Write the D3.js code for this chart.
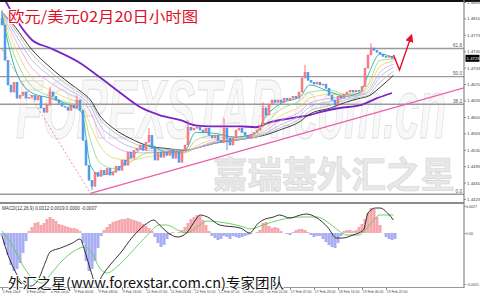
<!DOCTYPE html>
<html>
<head>
<meta charset="utf-8">
<script src="https://cdn.jsdelivr.net/npm/d3@7"></script>
<style>
  body { margin: 0; background: #fff; }
  svg { display: block; font-family: "Liberation Sans", Arial, sans-serif; }
</style>
</head>
<body>
<div id="chart"></div>
<script>
// EUR/USD hourly, 5 Feb - 20 Feb 2009. one candle = 2 hours, x in hours from start
var firstOpen = 1.4810;
var closes = [
  1.4796,1.4721,1.4668,1.4653,1.4674,1.4640,1.4646,1.4653,1.4640,1.4642,
  1.4646,1.4636,1.4644,1.4619,1.4610,1.4625,1.4653,1.4644,1.4636,1.4629,
  1.4623,1.4621,1.4614,1.4625,1.4619,1.4636,1.4614,1.4550,1.4497,1.4465,
  1.4452,1.4482,1.4473,1.4486,1.4478,1.4490,1.4476,1.4482,1.4495,1.4486,
  1.4508,1.4497,1.4525,1.4512,1.4529,1.4533,1.4540,1.4529,1.4546,1.4561,
  1.4533,1.4508,1.4525,1.4514,1.4525,1.4518,1.4529,1.4512,1.4525,1.4503,
  1.4529,1.4540,1.4578,1.4572,1.4576,1.4580,1.4572,1.4567,1.4576,1.4561,
  1.4555,1.4561,1.4550,1.4546,1.4576,1.4555,1.4540,1.4555,1.4572,1.4576,
  1.4567,1.4561,1.4555,1.4563,1.4567,1.4572,1.4582,1.4619,1.4604,1.4627,
  1.4636,1.4631,1.4636,1.4631,1.4640,1.4636,1.4640,1.4644,1.4640,1.4653,
  1.4683,1.4695,1.4678,1.4674,1.4670,1.4674,1.4668,1.4670,1.4661,1.4646,
  1.4636,1.4627,1.4644,1.4640,1.4648,1.4653,1.4657,1.4653,1.4657,1.4655,
  1.4665,1.4704,1.4732,1.4747,1.4742,1.4738,1.4734,1.4729,1.4727,1.4729,
  1.4725,1.4725
];
// [hour, wick extreme]
var wicks = [[0,1.4828],[32,1.4663],[50,1.4646],[60,1.4444],[98,1.4576],[124,1.4593],
  [148,1.4597],[150,1.4529],[174,1.4631],[202,1.4711],[222,1.4619],[246,1.4757]];

// moving averages read at these hours
var maHours = [0,9,19,32,45,53,59,65,75,85,99,109,122,129,142,155,169,175,185,199,205,219,229,239,244,252,261];
var ma1 = [1.4817,1.4700,1.4653,1.4640,1.4625,1.4610,1.4497,1.4476,1.4484,1.4512,1.4540,1.4525,1.4529,1.4567,1.4565,1.4557,1.4565,1.4597,1.4627,1.4644,1.4668,1.4653,1.4644,1.4653,1.4689,1.4734,1.4727];
var ma2 = [1.4819,1.4725,1.4668,1.4644,1.4629,1.4619,1.4550,1.4503,1.4490,1.4503,1.4525,1.4525,1.4525,1.4550,1.4561,1.4557,1.4561,1.4582,1.4614,1.4636,1.4653,1.4657,1.4648,1.4651,1.4668,1.4721,1.4723];
var ma3 = [1.4821,1.4747,1.4687,1.4657,1.4638,1.4627,1.4582,1.4540,1.4512,1.4508,1.4516,1.4520,1.4523,1.4537,1.4552,1.4555,1.4559,1.4574,1.4601,1.4623,1.4640,1.4648,1.4648,1.4651,1.4661,1.4708,1.4719];
var ma4 = [1.4821,1.4764,1.4708,1.4674,1.4648,1.4636,1.4610,1.4567,1.4537,1.4525,1.4523,1.4525,1.4525,1.4533,1.4548,1.4552,1.4559,1.4569,1.4591,1.4612,1.4629,1.4640,1.4644,1.4648,1.4655,1.4695,1.4712];
var ma5 = [1.4823,1.4776,1.4725,1.4687,1.4657,1.4642,1.4623,1.4584,1.4555,1.4537,1.4529,1.4529,1.4527,1.4533,1.4546,1.4552,1.4557,1.4565,1.4582,1.4604,1.4621,1.4633,1.4640,1.4646,1.4651,1.4685,1.4706];
var ma6 = [1.4823,1.4785,1.4738,1.4697,1.4665,1.4648,1.4631,1.4597,1.4567,1.4548,1.4533,1.4531,1.4529,1.4533,1.4544,1.4550,1.4557,1.4563,1.4576,1.4597,1.4612,1.4625,1.4636,1.4642,1.4646,1.4674,1.4697];
var maBlack = [1.4823,1.4791,1.4747,1.4706,1.4672,1.4653,1.4636,1.4604,1.4574,1.4555,1.4537,1.4533,1.4529,1.4533,1.4544,1.4550,1.4557,1.4561,1.4572,1.4591,1.4606,1.4619,1.4631,1.4640,1.4644,1.4663,1.4689];
var purpleHours = [2,11,20,32,52,65,79,92,105,119,129,139,150,159,169,179,192,205,212,225,239,250,260];
var maPurple = [1.4849,1.4800,1.4764,1.4747,1.4715,1.4685,1.4651,1.4621,1.4604,1.4593,1.4582,1.4580,1.4580,1.4580,1.4578,1.4589,1.4597,1.4604,1.4610,1.4619,1.4625,1.4640,1.4651];

var fibLabels = ["0.0", "38.2", "50.0", "61.8"];
var fibLevels = [1.4435, 1.4627, 1.4686, 1.4746];
var trendLine = [[59, 1.4437], [308, 1.4662]];
var dashLine = [[0, 1.4743], [59, 1.4437]];
var arrowPath = [[261, 1.4732], [265, 1.4700], [273, 1.4774]];
var lastPrice = 1.4725;

var priceTicks = [1.4845,1.4810,1.4775,1.4740,1.4705,1.4670,1.4635,1.4600,1.4565,1.4530,1.4495,1.4460,1.4425];
var dateHours = [0,16,32,48,64,80,96,112,128,144,160,176,192,208,224,240,256];
var dateLabels = ["5 Feb 2009","6 Feb 08:00","6 Feb 16:00","9 Feb 00:00","9 Feb 08:00","9 Feb 16:00",
  "11 Feb 07:00","11 Feb 23:00","12 Feb 15:00","13 Feb 07:00","13 Feb 23:00","16 Feb 15:00",
  "17 Feb 07:00","17 Feb 23:00","18 Feb 14:00","19 Feb 06:00","19 Feb 22:00"];

// MACD pane
var histogram = [
  -0.0003,-0.0012,-0.0022,-0.0032,-0.0038,-0.0036,-0.0030,-0.0020,-0.0008,0.0002,
  0.0006,0.0010,0.0011,0.0008,0.0010,0.0014,0.0016,0.0014,0.0012,0.0009,
  0.0008,0.0007,0.0006,0.0005,0.0005,0.0004,0.0002,-0.0010,-0.0028,-0.0038,
  -0.0036,-0.0028,-0.0015,-0.0003,0.0003,0.0006,0.0009,0.0011,0.0012,0.0013,
  0.0014,0.0014,0.0015,0.0014,0.0013,0.0012,0.0011,0.0009,0.0007,0.0005,
  0.0002,-0.0004,-0.0010,-0.0014,-0.0012,-0.0006,-0.0002,0.0001,0.0000,0.0001,
  0.0003,0.0006,0.0010,0.0014,0.0016,0.0018,0.0017,0.0013,0.0008,0.0002,
  -0.0003,-0.0005,-0.0007,-0.0006,-0.0003,-0.0004,-0.0006,-0.0003,-0.0004,-0.0005,
  -0.0004,-0.0003,-0.0002,-0.0001,0.0000,0.0001,0.0003,0.0010,0.0011,0.0007,
  0.0005,0.0006,0.0005,0.0002,0.0000,-0.0001,-0.0002,0.0001,0.0003,0.0004,
  0.0004,0.0003,0.0001,-0.0002,-0.0004,-0.0003,-0.0003,-0.0006,-0.0009,-0.0012,
  -0.0014,-0.0015,-0.0010,-0.0003,0.0002,0.0003,0.0003,0.0002,0.0003,0.0006,
  0.0009,0.0014,0.0020,0.0025,0.0024,0.0016,0.0008,0.0000,-0.0004,-0.0006,
  -0.0007,-0.0006
];
var macdHours = [0,4,9,13,19,24,29,32,39,47,52,55,59,63,67,72,79,87,97,101,105,110,117,123,129,132,137,145,159,165,171,174,181,185,192,199,203,210,217,223,227,234,241,244,249,252,257,261];
var macdLine = [-0.0003,-0.0022,-0.0039,-0.0049,-0.0053,-0.0047,-0.0029,-0.0019,-0.0015,-0.0010,-0.0006,-0.0017,-0.0037,-0.0052,-0.0042,-0.0032,-0.0020,-0.0004,0.0010,0.0013,0.0008,0.0001,-0.0004,0.0000,0.0013,0.0018,0.0016,0.0008,0.0005,0.0000,0.0010,0.0013,0.0016,0.0018,0.0015,0.0018,0.0019,0.0015,0.0006,-0.0005,-0.0005,-0.0002,0.0003,0.0020,0.0025,0.0025,0.0020,0.0013];
var signalHours = [0,6,13,20,27,33,40,48,55,60,65,70,78,87,97,105,110,117,123,130,137,145,159,166,174,185,199,210,217,223,230,238,244,252,261];
var signalLine = [0.0002,-0.0010,-0.0030,-0.0045,-0.0050,-0.0040,-0.0028,-0.0018,-0.0014,-0.0020,-0.0035,-0.0040,-0.0032,-0.0018,-0.0002,0.0008,0.0008,0.0003,0.0000,0.0006,0.0012,0.0011,0.0007,0.0004,0.0008,0.0013,0.0016,0.0016,0.0011,0.0004,-0.0002,-0.0002,0.0006,0.0018,0.0018];
var macdTicks = [0.0027, 0, -0.0051];

var width = 480, height = 297, axisX = 464;

var x = d3.scaleLinear().domain([0, 262]).range([2, 395]);
var y = d3.scaleLinear().domain([1.4425, 1.4845]).range([199, 2]);
var ym = d3.scaleLinear().domain([-0.0051, 0.0027]).range([284, 206]);

var svg = d3.select("#chart").append("svg")
  .attr("width", width)
  .attr("height", height);

svg.append("rect").attr("width", width).attr("height", height).attr("fill", "#fff");

var defs = svg.append("defs");
defs.append("clipPath").attr("id", "clipMain")
  .append("rect").attr("x", 0).attr("y", 2).attr("width", axisX).attr("height", 194);
defs.append("clipPath").attr("id", "clipMacd")
  .append("rect").attr("x", 0).attr("y", 203).attr("width", axisX).attr("height", 84);
defs.append("marker").attr("id", "arrowHead")
  .attr("viewBox", "0 0 10 10").attr("refX", 8).attr("refY", 5)
  .attr("markerWidth", 6).attr("markerHeight", 6).attr("orient", "auto")
  .append("path").attr("d", "M0,0L10,5L0,10z").attr("fill", "#e8102a");

// watermark
svg.append("text")
  .attr("x", 16).attr("y", 138)
  .attr("textLength", 430).attr("lengthAdjust", "spacingAndGlyphs")
  .style("font-size", "84px").style("font-weight", "bold").style("font-style", "italic")
  .attr("fill", "#f8f8f8").attr("stroke", "#dcdcdc").attr("stroke-width", 1)
  .text("FOREXSTAR.com.cn");
svg.append("text")
  .attr("x", 213).attr("y", 188)
  .attr("textLength", 242).attr("lengthAdjust", "spacingAndGlyphs")
  .style("font-size", "36px").style("font-weight", "bold")
  .style("font-family", "'Noto Sans CJK SC', sans-serif")
  .attr("fill", "#e8e8e8").attr("stroke", "#d4d4d4").attr("stroke-width", 0.6)
  .text("嘉瑞基外汇之星");

// main pane
var main = svg.append("g").attr("clip-path", "url(#clipMain)");

main.selectAll(".fib")
  .data(fibLevels)
  .enter().append("line")
  .attr("class", "fib")
  .attr("x1", 0).attr("x2", axisX)
  .attr("y1", function (d) { return y(d); })
  .attr("y2", function (d) { return y(d); })
  .attr("stroke", "#9a9a9a").attr("stroke-width", 1.4);

function maLine(hours) {
  return d3.line()
    .x(function (d, i) { return x(hours[i]); })
    .y(function (d) { return y(d); })
    .curve(d3.curveMonotoneX);
}

var maSeries = [
  { values: maPurple, hours: purpleHours, color: "#7b22c8", w: 1.8 },
  { values: maBlack, hours: maHours, color: "#3a3a3a", w: 1 },
  { values: ma6, hours: maHours, color: "#b4b4b4", w: 0.8 },
  { values: ma5, hours: maHours, color: "#9fb4ec", w: 0.8 },
  { values: ma4, hours: maHours, color: "#e49ad8", w: 0.8 },
  { values: ma3, hours: maHours, color: "#e4d46a", w: 0.8 },
  { values: ma2, hours: maHours, color: "#8fd872", w: 0.8 },
  { values: ma1, hours: maHours, color: "#28b0a4", w: 0.9 }
];

main.selectAll(".ma")
  .data(maSeries)
  .enter().append("path")
  .attr("class", "ma")
  .attr("d", function (d) { return maLine(d.hours)(d.values); })
  .attr("fill", "none")
  .attr("stroke", function (d) { return d.color; })
  .attr("stroke-width", function (d) { return d.w; });

var bars = closes.map(function (c, i) {
  return { h: i * 2, open: i ? closes[i - 1] : firstOpen, close: c };
});
var upCol = "#ef4f5a", downCol = "#2f7fe0";

main.selectAll(".wick")
  .data(wicks)
  .enter().append("line")
  .attr("class", "wick")
  .attr("x1", function (d) { return x(d[0]); })
  .attr("x2", function (d) { return x(d[0]); })
  .attr("y1", function (d) { return y(bars[d[0] / 2].close); })
  .attr("y2", function (d) { return y(d[1]); })
  .attr("stroke", function (d) { var b = bars[d[0] / 2]; return b.close >= b.open ? upCol : downCol; })
  .attr("stroke-width", 0.8);

main.selectAll(".candle")
  .data(bars)
  .enter().append("rect")
  .attr("class", "candle")
  .attr("x", function (d) { return x(d.h) - 1; })
  .attr("width", 2)
  .attr("y", function (d) { return y(Math.max(d.open, d.close)); })
  .attr("height", function (d) { return Math.max(1, Math.abs(y(d.open) - y(d.close))); })
  .attr("fill", function (d) { return d.close >= d.open ? "#f48a90" : "#5aa6ee"; })
  .attr("stroke", function (d) { return d.close >= d.open ? upCol : downCol; })
  .attr("stroke-width", 0.4);

var plain = d3.line().x(function (d) { return x(d[0]); }).y(function (d) { return y(d[1]); });

main.append("path")
  .attr("d", plain(dashLine))
  .attr("fill", "none").attr("stroke", "#f07090")
  .attr("stroke-width", 0.8).attr("stroke-dasharray", "2,2");

main.append("path")
  .attr("d", plain(trendLine))
  .attr("fill", "none").attr("stroke", "#ec5fa8").attr("stroke-width", 1.3);

svg.append("path")
  .attr("d", plain(arrowPath))
  .attr("fill", "none").attr("stroke", "#e8102a").attr("stroke-width", 1.4)
  .attr("marker-end", "url(#arrowHead)");

// fib labels
svg.selectAll(".fibLabel")
  .data(fibLevels)
  .enter().append("text")
  .attr("class", "fibLabel")
  .attr("x", axisX - 2)
  .attr("y", function (d) { return y(d) - 1.5; })
  .attr("text-anchor", "end")
  .style("font-size", "4.6px").attr("fill", "#555")
  .text(function (d, i) { return fibLabels[i]; });

// MACD pane
var macd = svg.append("g").attr("clip-path", "url(#clipMacd)");

macd.selectAll(".hist")
  .data(histogram)
  .enter().append("rect")
  .attr("class", "hist")
  .attr("x", function (d, i) { return x(i * 2) - 1.5; })
  .attr("width", 3)
  .attr("y", function (d) { return d >= 0 ? ym(d) : ym(0); })
  .attr("height", function (d) { return Math.abs(ym(d) - ym(0)); })
  .attr("fill", function (d) { return d >= 0 ? "#f6a7ad" : "#a9aef2"; });

macd.append("path")
  .attr("d", maLine(signalHours).y(function (d) { return ym(d); })(signalLine))
  .attr("fill", "none").attr("stroke", "#5ccc5c").attr("stroke-width", 0.9);

macd.append("path")
  .attr("d", maLine(macdHours).y(function (d) { return ym(d); })(macdLine))
  .attr("fill", "none").attr("stroke", "#1e1e1e").attr("stroke-width", 0.9);

svg.append("text")
  .attr("x", 2).attr("y", 210)
  .style("font-size", "4.6px").attr("fill", "#333")
  .text("MACD(12,26,9) 0.0012 0.0019 0.0000 -0.0007");

// frames
svg.append("rect").attr("x", 0).attr("y", 0).attr("width", width).attr("height", 2).attr("fill", "#111");
svg.append("line").attr("x1", 0).attr("x2", axisX).attr("y1", 203).attr("y2", 203)
  .attr("stroke", "#666").attr("stroke-width", 1.4);
svg.append("line").attr("x1", 0).attr("x2", axisX).attr("y1", 287.5).attr("y2", 287.5)
  .attr("stroke", "#999").attr("stroke-width", 1);
svg.append("line").attr("x1", axisX).attr("x2", axisX).attr("y1", 0).attr("y2", 288)
  .attr("stroke", "#888").attr("stroke-width", 1.2);

// right axes
var yAxis = d3.axisRight(y).tickValues(priceTicks).tickSize(2).tickPadding(1)
  .tickFormat(d3.format(".4f"));
svg.append("g")
  .attr("class", "y axis")
  .attr("transform", "translate(" + axisX + ",0)")
  .call(yAxis)
  .call(function (g) { g.select(".domain").remove(); })
  .call(function (g) {
    g.selectAll("text").style("font-size", "4.4px").attr("fill", "#444");
    g.selectAll("line").attr("stroke", "#888");
  });

var mAxis = d3.axisRight(ym).tickValues(macdTicks).tickSize(1.5).tickPadding(0.5)
  .tickFormat(function (d) { return d === 0 ? "0.00" : d3.format(".4f")(d); });
svg.append("g")
  .attr("class", "m axis")
  .attr("transform", "translate(" + axisX + ",0)")
  .call(mAxis)
  .call(function (g) { g.select(".domain").remove(); })
  .call(function (g) {
    g.selectAll("text").style("font-size", "3.6px").attr("fill", "#444");
    g.selectAll("line").attr("stroke", "#888");
  });

// last price box
svg.append("rect")
  .attr("x", axisX + 1.5).attr("y", y(lastPrice) - 3.5)
  .attr("width", 14).attr("height", 7).attr("fill", "#000");
svg.append("text")
  .attr("x", axisX + 2.5).attr("y", y(lastPrice) + 1.6)
  .style("font-size", "4.4px").attr("fill", "#fff")
  .text(d3.format(".4f")(lastPrice));

// date axis
var xAxis = d3.axisBottom(x).tickValues(dateHours).tickSize(2).tickPadding(0.5)
  .tickFormat(function (d, i) { return dateLabels[i]; });
svg.append("g")
  .attr("class", "x axis")
  .attr("transform", "translate(0,288)")
  .call(xAxis)
  .call(function (g) { g.select(".domain").remove(); })
  .call(function (g) {
    g.selectAll("text").attr("text-anchor", "start").attr("dx", 0.3)
      .style("font-size", "3.5px").attr("fill", "#444");
    g.selectAll("line").attr("stroke", "#888");
  });

// title and caption
svg.append("text")
  .attr("x", 8).attr("y", 22)
  .attr("textLength", 190).attr("lengthAdjust", "spacingAndGlyphs")
  .style("font-size", "15px")
  .style("font-family", "'Noto Sans CJK SC', sans-serif")
  .attr("fill", "#e0102a")
  .attr("stroke", "#fff").attr("stroke-width", 2).attr("paint-order", "stroke")
  .text("欧元/美元02月20日小时图");

svg.append("text")
  .attr("x", 8).attr("y", 288)
  .attr("textLength", 276).attr("lengthAdjust", "spacingAndGlyphs")
  .style("font-size", "14px")
  .style("font-family", "'Noto Sans CJK SC', sans-serif")
  .attr("fill", "#111")
  .attr("stroke", "#fff").attr("stroke-width", 2).attr("paint-order", "stroke")
  .text("外汇之星(www.forexstar.com.cn)专家团队");
</script>
</body>
</html>
